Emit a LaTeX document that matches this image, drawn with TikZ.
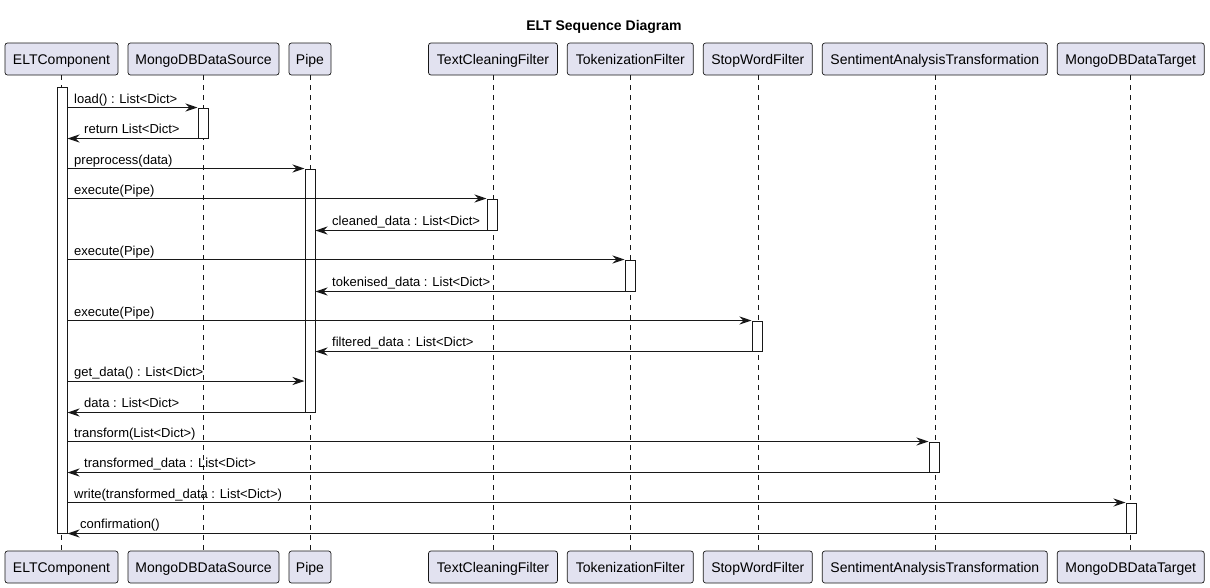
\documentclass[tikz,border=0pt]{standalone}
\usepackage{fontspec}
\setmainfont{Liberation Sans}
\usetikzlibrary{arrows.meta}
\definecolor{boxfill}{HTML}{E2E2F0}
\definecolor{ink}{HTML}{181818}
\begin{document}
\begin{tikzpicture}[x=1pt,y=-1pt,
  part/.style={draw=ink, fill=boxfill, rounded corners=2.5pt, minimum height=32pt, inner sep=0pt, text height=10.5pt, text depth=0pt, line width=0.7pt, font=\fontsize{14}{16}\selectfont},
  life/.style={draw=ink, line width=0.6pt, dash pattern=on 5pt off 5pt},
  act/.style={draw=ink, fill=white, minimum width=10pt, inner sep=0pt, line width=1pt},
  msg/.style={draw=ink, line width=1pt, -{Stealth[length=12pt,width=8pt,inset=4pt]}},
  lbl/.style={anchor=base west, inner sep=0pt, font=\fontsize{13}{15}\selectfont}]
\useasboundingbox (0,0) rectangle (1210,587);
\node[anchor=base, inner sep=0pt, font=\bfseries\fontsize{14}{16}\selectfont] (title) at (604,30) {ELT Sequence Diagram};
% participants top
\node[part, minimum width=113pt] (p1) at (61.5,59) {ELTComponent};
\node[part, minimum width=151pt] (p2) at (203.5,59) {MongoDBDataSource};
\node[part, minimum width=42pt] (p3) at (310,59) {Pipe};
\node[part, minimum width=129pt] (p4) at (493,59) {TextCleaningFilter};
\node[part, minimum width=126pt] (p5) at (630.3,59) {TokenizationFilter};
\node[part, minimum width=109pt] (p6) at (757.8,59) {StopWordFilter};
\node[part, minimum width=225pt] (p7) at (934.8,59) {SentimentAnalysisTransformation};
\node[part, minimum width=147pt] (p8) at (1130.7,59) {MongoDBDataTarget};
% participants bottom
\node[part, minimum width=113pt] (q1) at (61.5,567) {ELTComponent};
\node[part, minimum width=151pt] (q2) at (203.5,567) {MongoDBDataSource};
\node[part, minimum width=42pt] (q3) at (310,567) {Pipe};
\node[part, minimum width=129pt] (q4) at (493,567) {TextCleaningFilter};
\node[part, minimum width=126pt] (q5) at (630.3,567) {TokenizationFilter};
\node[part, minimum width=109pt] (q6) at (757.8,567) {StopWordFilter};
\node[part, minimum width=225pt] (q7) at (934.8,567) {SentimentAnalysisTransformation};
\node[part, minimum width=147pt] (q8) at (1130.7,567) {MongoDBDataTarget};
% lifelines
\foreach \i in {1,...,8} {\draw[life] (p\i.south) -- (q\i.north);}
% activations
\node[act, minimum height=446pt] (a1) at (62,310) {};
\node[act, minimum height=30pt] (a2) at (203,123) {};
\node[act, minimum height=243pt] (a3) at (310,290.5) {};
\node[act, minimum height=31pt] (a4) at (492,214.5) {};
\node[act, minimum height=31pt] (a5) at (630,275.5) {};
\node[act, minimum height=30pt] (a6) at (757,336) {};
\node[act, minimum height=30pt] (a7) at (934,457) {};
\node[act, minimum height=30pt] (a8) at (1131,518) {};
% messages
\draw[msg] (a1.east |- a2.north) -- (a2.north west);
\node[lbl] (m1) at (74,103) {load() : List<Dict>};
\draw[msg] (a2.south west) -- (a1.east |- a2.south);
\node[lbl] (m2) at (84,133) {return List<Dict>};
\draw[msg] (a1.east |- a3.north) -- (a3.north west);
\node[lbl] (m3) at (74,164) {preprocess(data)};
\draw[msg] (a1.east |- a4.north) -- (a4.north west);
\node[lbl] (m4) at (74,194) {execute(Pipe)};
\draw[msg] (a4.south west) -- (a3.east |- a4.south);
\node[lbl] (m5) at (332,225) {cleaned\_data : List<Dict>};
\draw[msg] (a1.east |- a5.north) -- (a5.north west);
\node[lbl] (m6) at (74,255) {execute(Pipe)};
\draw[msg] (a5.south west) -- (a3.east |- a5.south);
\node[lbl] (m7) at (332,286) {tokenised\_data : List<Dict>};
\draw[msg] (a1.east |- a6.north) -- (a6.north west);
\node[lbl] (m8) at (74,316) {execute(Pipe)};
\draw[msg] (a6.south west) -- (a3.east |- a6.south);
\node[lbl] (m9) at (332,346) {filtered\_data : List<Dict>};
\coordinate (g) at (0,381);
\draw[msg] (a1.east |- g) -- (a3.west |- g);
\node[lbl] (m10) at (74,376) {get\_data() : List<Dict>};
\draw[msg] (a3.south west) -- (a1.east |- a3.south);
\node[lbl] (m11) at (84,407) {data : List<Dict>};
\draw[msg] (a1.east |- a7.north) -- (a7.north west);
\node[lbl] (m12) at (74,437) {transform(List<Dict>)};
\draw[msg] (a7.south west) -- (a1.east |- a7.south);
\node[lbl] (m13) at (84,467) {transformed\_data : List<Dict>};
\draw[msg] (a1.east |- a8.north) -- (a8.north west);
\node[lbl] (m14) at (74,498) {write(transformed\_data : List<Dict>)};
\draw[msg] (a8.south west) -- (a1.east |- a8.south);
\node[lbl] (m15) at (80,528) {confirmation()};
\end{tikzpicture}
\end{document}
